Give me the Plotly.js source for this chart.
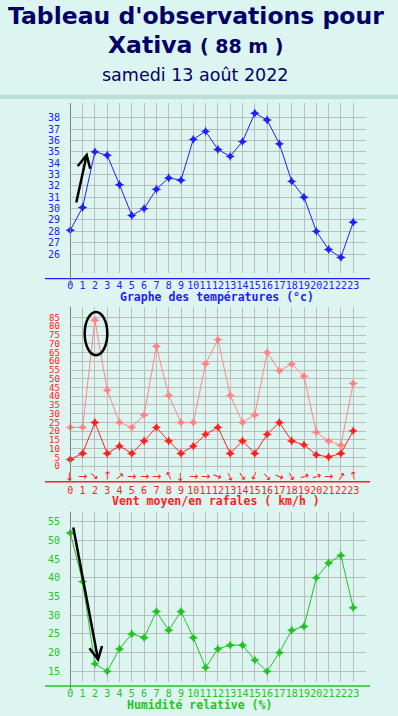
<!DOCTYPE html>
<html>
<head>
<meta charset="utf-8">
<script src="https://cdn.plot.ly/plotly-3.0.1.min.js"></script>
<style>
html,body{margin:0;padding:0;background:#ddf5f0;}
#chart{width:398px;height:716px;}
</style>
</head>
<body>
<div id="chart"></div>
<script>
// ---- data ----
const hours = [0,1,2,3,4,5,6,7,8,9,10,11,12,13,14,15,16,17,18,19,20,21,22,23];
const hourLabels = ['0','1','2','3','4','5','6','7','8','9','10','11','12','13','14','15','16','17','18','19','20','21','22','23'];
const temperature = [28.1,30.1,35.0,34.7,32.1,29.4,30.0,31.7,32.7,32.5,36.1,36.8,35.2,34.6,35.9,38.4,37.8,35.7,32.4,31.0,28.0,26.4,25.7,28.8];
const windMean = [3.9,7.3,25.0,7.3,11.5,7.3,14.4,22.2,14.4,7.3,11.5,18.2,22.2,7.3,14.4,7.3,18.2,25.0,14.4,12.2,6.5,5.3,7.3,20.2];
const windGust = [22.2,22.2,83.5,43.5,25.0,22.2,29.3,68.6,40.5,25.0,25.0,58.6,72.4,40.5,25.0,29.3,65.0,54.6,58.4,51.5,19.4,14.4,12.0,47.3];
// screen angle of the direction arrow (degrees clockwise from "→")
const windArrowAngle = [90,0,45,-90,-40,0,0,0,-115,90,0,0,22,70,55,113,50,22,60,-20,-20,0,-60,-100];
const humidity = [52,39,17,15,21,25,24,31,26,31,24,16,21,22,22,18,15,20,26,27,40,44,46,32];
const tempTicks = [26,27,28,29,30,31,32,33,34,35,36,37,38];
const windTicks = [0,5,10,15,20,25,30,35,40,45,50,55,60,65,70,75,80,85];
const humTicks = [15,20,25,30,35,40,45,50,55];

// ---- layout helpers (pixel -> paper) ----
const W = 398, H = 716;
const px = p => p / W;
const py = p => 1 - p / H;

const BLUE = '#2020ff', RED = '#ff2020', PINK = '#ff8585', GREEN = '#22c422';
const GRID = '#bcbcbc', NAVY = '#000066';
const mono = 'DejaVu Sans Mono';

const xDom = [px(69.93), px(365.87)];
const xRange = [-0.03, 24.03];
const xTickVals = hours.concat([24]);
const xTickText = hourLabels.concat(['']);

function xAxis(color, anchor, len) {
  return {
    domain: xDom, range: xRange, anchor: anchor,
    tickmode: 'array', tickvals: xTickVals, ticktext: xTickText, tickangle: 0,
    showgrid: true, gridcolor: GRID, gridwidth: 1, zeroline: false, showline: false,
    ticks: 'outside', ticklen: len, tickcolor: 'rgba(0,0,0,0)',
    tickfont: {family: mono, size: 10, color: color}, fixedrange: true
  };
}
function yAxis(color, domain, range, ticks, anchor, fs) {
  return {
    domain: domain, range: range, anchor: anchor,
    tickmode: 'array', tickvals: ticks, ticktext: ticks.map(String), tickangle: 0,
    showgrid: true, gridcolor: GRID, gridwidth: 1, zeroline: false, showline: false,
    ticks: '', ticklabelstandoff: 9,
    tickfont: {family: mono, size: fs || 10, color: color}, fixedrange: true
  };
}

const traces = [
  {x: hours, y: temperature, xaxis: 'x', yaxis: 'y', mode: 'lines+markers',
   line: {color: BLUE, width: 1}, marker: {symbol: 'star-diamond', size: 7, color: BLUE}, cliponaxis: false},
  {x: hours, y: windGust, xaxis: 'x2', yaxis: 'y2', mode: 'lines+markers',
   line: {color: PINK, width: 1}, marker: {symbol: 'star-diamond', size: 7, color: PINK}, cliponaxis: false},
  {x: hours, y: windMean, xaxis: 'x2', yaxis: 'y2', mode: 'lines+markers',
   line: {color: RED, width: 1}, marker: {symbol: 'star-diamond', size: 7, color: RED}, cliponaxis: false},
  {x: hours, y: humidity, xaxis: 'x3', yaxis: 'y3', mode: 'lines+markers',
   line: {color: GREEN, width: 1}, marker: {symbol: 'star-diamond', size: 7, color: GREEN}, cliponaxis: false}
];

const annotations = [
  {text: "<b>Tableau d'observations pour</b>", xref: 'paper', yref: 'paper', x: px(196.3), y: py(16), xanchor: 'center', yanchor: 'middle', showarrow: false,
   font: {family: 'DejaVu Sans', size: 23.5, color: NAVY}},
  {text: "<b>Xativa</b> <b><span style='font-size:19px'>( 88 m )</span></b>", xref: 'paper', yref: 'paper', x: px(195.5), y: py(44.5), xanchor: 'center', yanchor: 'middle', showarrow: false,
   font: {family: 'DejaVu Sans', size: 23.5, color: NAVY}},
  {text: "samedi 13 août 2022", xref: 'paper', yref: 'paper', x: px(195.8), y: py(75), xanchor: 'center', yanchor: 'middle', showarrow: false,
   font: {family: 'DejaVu Sans', size: 17.5, color: NAVY}},
  {text: "<b>Graphe des températures (°c)</b>", xref: 'paper', yref: 'paper', x: px(216.7), y: py(296.5), xanchor: 'center', yanchor: 'middle', showarrow: false,
   font: {family: mono, size: 11.5, color: BLUE}},
  {text: "<b>Vent moyen/en rafales ( km/h )</b>", xref: 'paper', yref: 'paper', x: px(216), y: py(500.5), xanchor: 'center', yanchor: 'middle', showarrow: false,
   font: {family: mono, size: 11.5, color: RED}},
  {text: "<b>Humidité relative (%)</b>", xref: 'paper', yref: 'paper', x: px(199.7), y: py(704.5), xanchor: 'center', yanchor: 'middle', showarrow: false,
   font: {family: mono, size: 11.5, color: GREEN}},
  // black hand-drawn arrows
  {text: '', xref: 'x', yref: 'y', axref: 'x', ayref: 'y', x: 1.38, y: 34.95, ax: 0.46, ay: 30.4,
   showarrow: true, arrowhead: 5, arrowsize: 1, arrowwidth: 2.5, arrowcolor: '#000000', standoff: 0},
  {text: '', xref: 'x3', yref: 'y3', axref: 'x3', ayref: 'y3', x: 2.3, y: 17.4, ax: 0.22, ay: 53.9,
   showarrow: true, arrowhead: 5, arrowsize: 1, arrowwidth: 2.5, arrowcolor: '#000000', standoff: 0}
];
hours.forEach((h, i) => {
  annotations.push({text: '→', xref: 'x2', yref: 'paper', x: h, y: py(476), xanchor: 'center', yanchor: 'middle',
    showarrow: false, textangle: windArrowAngle[i], font: {family: 'DejaVu Sans', size: 11, color: RED}});
});

const shapes = [
  {type: 'rect', xref: 'paper', yref: 'paper', x0: 0, x1: 1, y0: py(99), y1: py(94.7), fillcolor: '#bcdedb', line: {width: 0}, layer: 'below'},
  // coloured baselines
  {type: 'line', xref: 'paper', yref: 'paper', x0: px(45), x1: px(370), y0: py(278.6), y1: py(278.6), line: {color: BLUE, width: 1.4}},
  {type: 'line', xref: 'paper', yref: 'paper', x0: px(45), x1: px(370), y0: py(481.7), y1: py(481.7), line: {color: RED, width: 1.4}},
  {type: 'line', xref: 'paper', yref: 'paper', x0: px(45), x1: px(370), y0: py(686), y1: py(686), line: {color: GREEN, width: 1.4}},
  // grey vertical axes at hour 0
  {type: 'line', xref: 'x', yref: 'paper', x0: 0, x1: 0, y0: py(103), y1: py(284), line: {color: '#808080', width: 1.3}},
  {type: 'line', xref: 'x2', yref: 'paper', x0: 0, x1: 0, y0: py(306.7), y1: py(482), line: {color: '#808080', width: 1.3}},
  {type: 'line', xref: 'x3', yref: 'paper', x0: 0, x1: 0, y0: py(511.7), y1: py(690), line: {color: '#808080', width: 1.3}},
  // black ellipse around the gust peak
  {type: 'circle', xref: 'x2', yref: 'y2', x0: 1.17, x1: 3.01, y0: 63.5, y1: 88.2, line: {color: '#000000', width: 2.5}}
];

const layout = {
  width: W, height: H, margin: {l: 0, r: 0, t: 0, b: 0},
  paper_bgcolor: '#ddf5f0', plot_bgcolor: 'rgba(0,0,0,0)',
  showlegend: false,
  xaxis: xAxis(BLUE, 'y', 3),
  yaxis: yAxis(BLUE, [py(273.3), py(103)], [24.303, 39.294], tempTicks, 'x'),
  xaxis2: xAxis(RED, 'y2', 10),
  yaxis2: yAxis(RED, [py(470.5), py(306.7)], [-2.46, 91.2], windTicks, 'x2', 9),
  xaxis3: xAxis(GREEN, 'y3', 2.5),
  yaxis3: yAxis(GREEN, [py(681.7), py(511.7)], [12.22, 57.7], humTicks, 'x3'),
  annotations: annotations,
  shapes: shapes
};

Plotly.newPlot('chart', traces, layout, {staticPlot: true, displayModeBar: false});
</script>
</body>
</html>
